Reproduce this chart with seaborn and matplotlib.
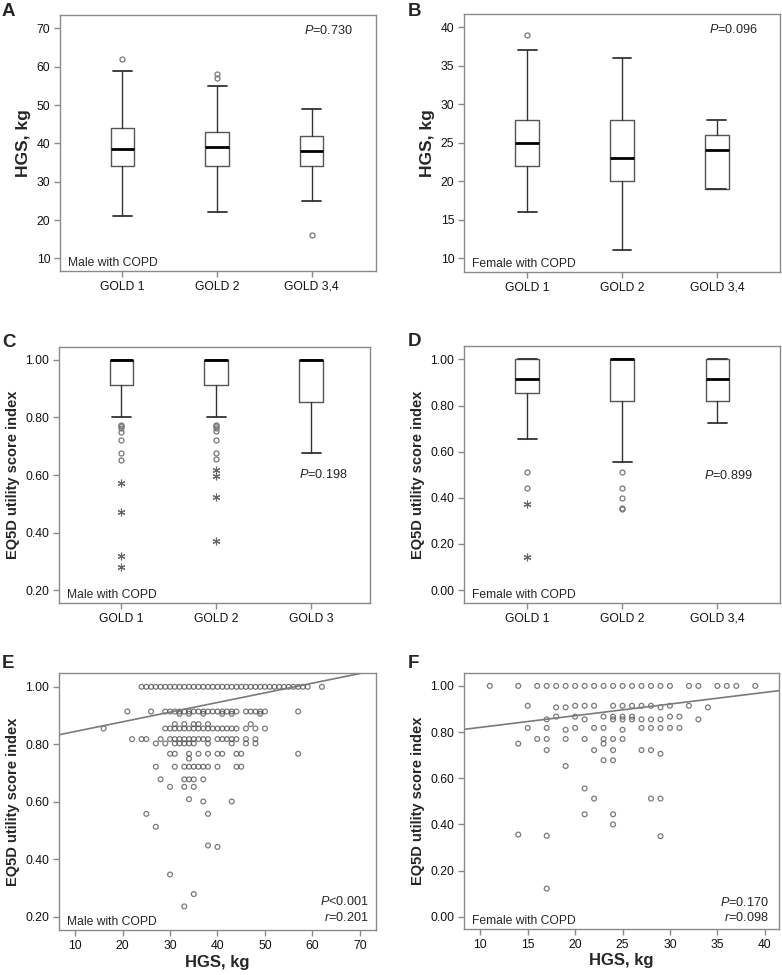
import numpy as np
import pandas as pd
import matplotlib
matplotlib.use("Agg")
import matplotlib.pyplot as plt
import seaborn as sns

# --- data ---
gold_34 = ["GOLD 1", "GOLD 2", "GOLD 3,4"]
gold_3 = ["GOLD 1", "GOLD 2", "GOLD 3"]

# A: HGS, male (box stats per GOLD group)
a_whislo = [21, 22, 25]
a_q1 = [34, 34, 34]
a_med = [38.5, 39, 38]
a_q3 = [44, 43, 42]
a_whishi = [59, 55, 49]
a_out = [[62], [57, 58], [16]]

# B: HGS, female
b_whislo = [16, 11, 19]
b_q1 = [22, 20, 19]
b_med = [25, 23, 24]
b_q3 = [28, 28, 26]
b_whishi = [37, 36, 28]
b_out = [[39], [], []]

# C: EQ5D, male
c_whislo = [0.802, 0.802, 0.675]
c_q1 = [0.912, 0.912, 0.854]
c_med = [1.0, 1.0, 1.0]
c_q3 = [1.0, 1.0, 1.0]
c_whishi = [1.0, 1.0, 1.0]
c_out = [[0.774, 0.769, 0.762, 0.751, 0.723, 0.678, 0.652],
         [0.774, 0.769, 0.762, 0.754, 0.723, 0.678, 0.654], []]
c_ext = [[0.572, 0.473, 0.318, 0.281], [0.616, 0.595, 0.522, 0.372], []]

# D: EQ5D, female
d_whislo = [0.656, 0.556, 0.723]
d_q1 = [0.855, 0.818, 0.818]
d_med = [0.913, 1.0, 0.913]
d_q3 = [1.0, 1.0, 1.0]
d_whishi = [1.0, 1.0, 1.0]
d_out = [[0.512, 0.444], [0.512, 0.444, 0.400, 0.355, 0.351], []]
d_ext = [[0.373, 0.145], [], []]

# E: male scatter, HGS values grouped by EQ5D level
m_levels = [1.000, 0.914, 0.906, 0.870, 0.855, 0.818, 0.803, 0.767, 0.750, 0.722, 0.678, 0.652]
m_hgs = [
    [24, 25, 26, 27, 28, 29, 30, 31, 32, 33, 34, 35, 36, 37, 38, 39, 40, 41, 42, 43,
     44, 45, 46, 47, 48, 49, 50, 51, 52, 53, 54, 55, 56, 57, 58, 59, 62],
    [21, 26, 29, 30, 31, 32, 33, 34, 35, 36, 37, 38, 39, 40, 41, 42, 43, 44, 46, 47, 48, 49, 50, 57],
    [32, 34, 37, 41, 43, 49],
    [31, 33, 35, 36, 38, 47],
    [16, 29, 30, 31, 32, 33, 34, 35, 36, 37, 38, 39, 40, 41, 42, 43, 44, 46, 48, 50],
    [22, 24, 25, 28, 30, 31, 32, 33, 34, 35, 36, 37, 38, 40, 41, 42, 43, 44, 46, 48],
    [27, 29, 31, 32, 33, 34, 35, 38, 43, 46, 48],
    [30, 31, 34, 36, 38, 40, 41, 44, 45, 57],
    [34],
    [27, 31, 33, 34, 35, 36, 37, 38, 40, 44, 45],
    [28, 33, 34, 35, 37],
    [30, 33, 35],
]
m_low_hgs = [34, 37, 43, 25, 38, 27, 38, 40, 30, 35, 33]
m_low_eq5d = [0.609, 0.601, 0.601, 0.558, 0.558, 0.513, 0.448, 0.443, 0.347, 0.279, 0.236]
e_fit = [0.811, 0.00336]  # intercept, slope

# F: female scatter
f_levels = [1.000, 0.914, 0.907, 0.867, 0.855, 0.818, 0.810, 0.770, 0.750, 0.722]
f_hgs = [
    [11, 14, 16, 17, 18, 19, 20, 21, 22, 23, 24, 25, 26, 27, 28, 29, 30, 32, 33, 35, 36, 37, 39],
    [15, 20, 21, 22, 24, 25, 26, 27, 28, 30, 32],
    [18, 19, 29, 34],
    [18, 20, 23, 24, 25, 26, 30, 31],
    [17, 21, 24, 25, 26, 27, 28, 29, 33],
    [15, 17, 20, 22, 23, 27, 28, 29, 30, 31],
    [19, 25],
    [16, 17, 19, 21, 23, 24, 25],
    [14, 23],
    [17, 22, 24, 27, 28],
]
f_low_hgs = [29, 23, 24, 19, 21, 22, 28, 29, 21, 24, 24, 14, 17, 29, 17]
f_low_eq5d = [0.706, 0.678, 0.678, 0.653, 0.556, 0.512, 0.512, 0.512, 0.444, 0.444,
              0.400, 0.356, 0.351, 0.349, 0.122]
f_fit = [0.770, 0.00505]

# --- style ---
sns.set_theme(style="ticks")
plt.rcParams["font.family"] = ["Liberation Sans", "DejaVu Sans"]
plt.rcParams["mathtext.fontset"] = "custom"
plt.rcParams["mathtext.rm"] = "Liberation Sans"
plt.rcParams["mathtext.it"] = "Liberation Sans:italic"

SPINE = "#8a8a8a"
TXT = 8.7

fig = plt.figure(figsize=(7.82, 9.75), dpi=100)


def rect(l, r, t, b):
    return [l / 782, 1 - b / 975, (r - l) / 782, (b - t) / 975]


def style_ax(ax):
    for s in ax.spines.values():
        s.set_color(SPINE)
        s.set_linewidth(1.0)
    ax.tick_params(direction="out", length=4, width=1, color=SPINE,
                   labelsize=TXT, labelcolor="#111111", pad=3)


def box_panel(ax, labels, whislo, q1, med, q3, whishi, outl, ext=None):
    stats = []
    for i in range(len(labels)):
        stats.append(dict(label=labels[i], whislo=whislo[i], q1=q1[i], med=med[i],
                          q3=q3[i], whishi=whishi[i], fliers=outl[i]))
    ax.bxp(stats, positions=range(len(labels)), widths=0.25, capwidths=0.2,
           boxprops=dict(color="#555555", lw=1),
           whiskerprops=dict(color="#333333", lw=1),
           capprops=dict(color="#333333", lw=1.3),
           medianprops=dict(color="black", lw=2),
           flierprops=dict(marker="o", mfc="none", mec="#777777", ms=3.6, mew=0.9))
    if ext is not None:
        for i, e in enumerate(ext):
            if e:
                ax.plot([i] * len(e), e, ls="none", marker=(6, 2, 0), ms=5.5,
                        mec="#666666", mew=0.8)
    style_ax(ax)


def scatter_panel(ax, levels, hgs, low_x, low_y, fit):
    xs, ys = [], []
    for lv, vals in zip(levels, hgs):
        xs += vals
        ys += [lv] * len(vals)
    df = pd.DataFrame({"HGS": xs + low_x, "EQ5D": ys + low_y})
    sns.scatterplot(data=df, x="HGS", y="EQ5D", ax=ax, marker="o", s=12,
                    facecolor="none", edgecolor="#4d4d4d", linewidth=0.9, alpha=0.75)
    ax.axline((0, fit[0]), slope=fit[1], color="#7a7a7a", lw=1.2)
    style_ax(ax)


HGS_LAB = 12.5
EQ_LAB = 10.5

# A
axA = fig.add_axes(rect(60, 376, 15, 271))
box_panel(axA, gold_34, a_whislo, a_q1, a_med, a_q3, a_whishi, a_out)
axA.set_xlim(-0.66, 2.68)
axA.set_ylim(6.7, 73.5)
axA.set_yticks([10, 20, 30, 40, 50, 60, 70])
axA.set_ylabel("HGS, kg", fontsize=HGS_LAB, fontweight="bold")
axA.text(0.025, 0.02, "Male with COPD", transform=axA.transAxes, fontsize=TXT, va="baseline")
axA.text(0.927, 0.9375, r"$\mathit{P}$=0.730", transform=axA.transAxes, fontsize=TXT + 0.4,
         ha="right", va="center")

# B
axB = fig.add_axes(rect(464, 780, 14, 272))
box_panel(axB, gold_34, b_whislo, b_q1, b_med, b_q3, b_whishi, b_out)
axB.set_xlim(-0.664, 2.664)
axB.set_ylim(8.2, 41.7)
axB.set_yticks([10, 15, 20, 25, 30, 35, 40])
axB.set_ylabel("HGS, kg", fontsize=HGS_LAB, fontweight="bold")
axB.text(0.025, 0.02, "Female with COPD", transform=axB.transAxes, fontsize=TXT, va="baseline")
axB.text(0.93, 0.938, r"$\mathit{P}$=0.096", transform=axB.transAxes, fontsize=TXT + 0.4,
         ha="right", va="center")

# C
axC = fig.add_axes(rect(59, 370, 347, 603))
box_panel(axC, gold_3, c_whislo, c_q1, c_med, c_q3, c_whishi, c_out, c_ext)
axC.set_xlim(-0.657, 2.619)
axC.set_ylim(0.155, 1.045)
axC.set_yticks([0.2, 0.4, 0.6, 0.8, 1.0])
axC.yaxis.set_major_formatter(matplotlib.ticker.FormatStrFormatter("%.2f"))
axC.set_ylabel("EQ5D utility score index", fontsize=EQ_LAB, fontweight="bold")
axC.text(0.025, 0.02, "Male with COPD", transform=axC.transAxes, fontsize=TXT, va="baseline")
axC.text(1.87, 0.60, r"$\mathit{P}$=0.198", fontsize=TXT + 0.4, ha="left", va="center")

# D
axD = fig.add_axes(rect(464, 780, 346, 603))
box_panel(axD, gold_34, d_whislo, d_q1, d_med, d_q3, d_whishi, d_out, d_ext)
axD.set_xlim(-0.664, 2.657)
axD.set_ylim(-0.056, 1.058)
axD.set_yticks([0.0, 0.2, 0.4, 0.6, 0.8, 1.0])
axD.yaxis.set_major_formatter(matplotlib.ticker.FormatStrFormatter("%.2f"))
axD.set_ylabel("EQ5D utility score index", fontsize=EQ_LAB, fontweight="bold")
axD.text(0.025, 0.02, "Female with COPD", transform=axD.transAxes, fontsize=TXT, va="baseline")
axD.text(1.86, 0.496, r"$\mathit{P}$=0.899", fontsize=TXT + 0.4, ha="left", va="center")

# E
axE = fig.add_axes(rect(59, 376, 673, 930))
scatter_panel(axE, m_levels, m_hgs, m_low_hgs, m_low_eq5d, e_fit)
axE.set_xlim(6.6, 73.4)
axE.set_ylim(0.154, 1.048)
axE.set_xticks([10, 20, 30, 40, 50, 60, 70])
axE.set_yticks([0.2, 0.4, 0.6, 0.8, 1.0])
axE.yaxis.set_major_formatter(matplotlib.ticker.FormatStrFormatter("%.2f"))
axE.set_xlabel("HGS, kg", fontsize=12, fontweight="bold", labelpad=2)
axE.set_ylabel("EQ5D utility score index", fontsize=EQ_LAB, fontweight="bold")
axE.text(0.025, 0.02, "Male with COPD", transform=axE.transAxes, fontsize=TXT, va="baseline")
axE.text(0.978, 0.109, r"$\mathit{P}$<0.001", transform=axE.transAxes, fontsize=TXT + 0.4,
         ha="right", va="center")
axE.text(0.978, 0.047, r"$\mathit{r}$=0.201", transform=axE.transAxes, fontsize=TXT + 0.4,
         ha="right", va="center")

# F
axF = fig.add_axes(rect(464, 779, 673, 929))
scatter_panel(axF, f_levels, f_hgs, f_low_hgs, f_low_eq5d, f_fit)
axF.set_xlim(8.28, 41.5)
axF.set_ylim(-0.053, 1.056)
axF.set_xticks([10, 15, 20, 25, 30, 35, 40])
axF.set_yticks([0.0, 0.2, 0.4, 0.6, 0.8, 1.0])
axF.yaxis.set_major_formatter(matplotlib.ticker.FormatStrFormatter("%.2f"))
axF.set_xlabel("HGS, kg", fontsize=12, fontweight="bold", labelpad=2)
axF.set_ylabel("EQ5D utility score index", fontsize=EQ_LAB, fontweight="bold")
axF.text(0.025, 0.02, "Female with COPD", transform=axF.transAxes, fontsize=TXT, va="baseline")
axF.text(0.968, 0.105, r"$\mathit{P}$=0.170", transform=axF.transAxes, fontsize=TXT + 0.4,
         ha="right", va="center")
axF.text(0.968, 0.043, r"$\mathit{r}$=0.098", transform=axF.transAxes, fontsize=TXT + 0.4,
         ha="right", va="center")

# panel letters
for letter, x, y in [("A", 2, 3), ("B", 408, 3), ("C", 2, 334), ("D", 408, 333),
                     ("E", 2, 655), ("F", 408, 655)]:
    fig.text(x / 782, 1 - y / 975, letter, fontsize=13.5, fontweight="bold", va="top", ha="left")

fig.savefig("out.png", dpi=100)
